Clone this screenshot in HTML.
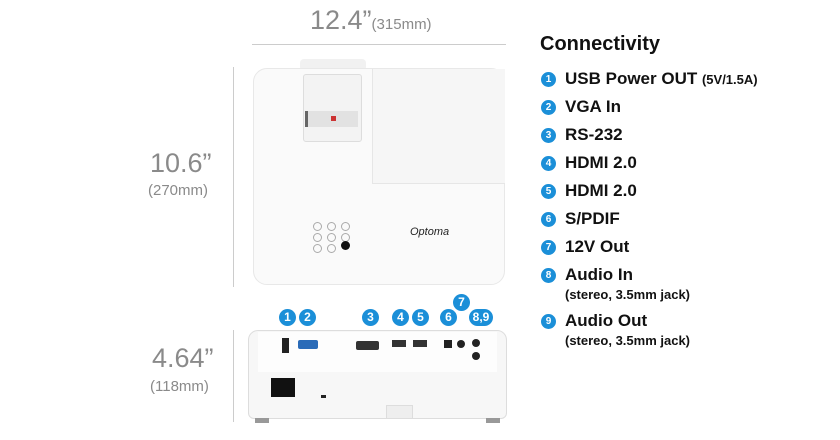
<!DOCTYPE html>
<html><head><meta charset="utf-8"><style>
body{margin:0;width:840px;height:440px;background:#fff;position:relative;overflow:hidden;font-family:"Liberation Sans",Arial,sans-serif}
.a{position:absolute}
.g{color:#8a8a8a}
.b{position:absolute;width:15px;height:15px;border-radius:50%;background:#1b8fd8;color:#fff;font-weight:bold;font-size:10px;text-align:center;line-height:15px}
.it{position:absolute;left:565px;font-weight:bold;font-size:17px;color:#111}
.sub{position:absolute;left:565px;font-weight:bold;font-size:13px;color:#111}
.pb{position:absolute;width:17px;height:17px;border-radius:50%;background:#1b8fd8;color:#fff;font-weight:bold;font-size:12px;text-align:center;line-height:17px}
.btn{position:absolute;width:7px;height:7px;border:1px solid #aaa;border-radius:50%}
</style></head><body>
<div class="a g" style="left:310px;top:5px;font-size:27px">12.4”<span style="font-size:15px">(315mm)</span></div>
<div class="a" style="left:252px;top:44px;width:254px;height:1px;background:#ccc"></div>
<div class="a g" style="left:150px;top:148px;font-size:27px">10.6”</div>
<div class="a g" style="left:148px;top:182px;font-size:15px">(270mm)</div>
<div class="a" style="left:233px;top:67px;width:1px;height:220px;background:#ccc"></div>
<div class="a g" style="left:152px;top:343px;font-size:27px">4.64”</div>
<div class="a g" style="left:150px;top:378px;font-size:15px">(118mm)</div>
<div class="a" style="left:233px;top:330px;width:1px;height:92px;background:#ccc"></div>

<!-- top view -->
<div class="a" style="left:300px;top:59px;width:66px;height:12px;background:#f1f1f1;border-radius:4px"></div>
<div class="a" style="left:253px;top:68px;width:252px;height:217px;background:#fafafa;border:1px solid #e8e8e8;border-radius:14px;box-sizing:border-box"></div>
<div class="a" style="left:372px;top:69px;width:132px;height:114px;background:#f6f6f6;border-left:1px solid #e6e6e6;border-bottom:1px solid #e6e6e6"></div>
<div class="a" style="left:303px;top:74px;width:57px;height:66px;background:#f3f3f3;border:1px solid #ddd;border-radius:3px"></div>
<div class="a" style="left:305px;top:111px;width:50px;height:16px;background:#e2e2e2;border-left:3px solid #666"></div>
<div class="a" style="left:331px;top:116px;width:5px;height:5px;background:#c33"></div>
<div class="btn" style="left:313px;top:222px"></div><div class="btn" style="left:327px;top:222px"></div><div class="btn" style="left:341px;top:222px"></div>
<div class="btn" style="left:313px;top:233px"></div><div class="btn" style="left:327px;top:233px"></div><div class="btn" style="left:341px;top:233px"></div>
<div class="btn" style="left:313px;top:244px"></div><div class="btn" style="left:327px;top:244px"></div>
<div class="a" style="left:341px;top:241px;width:9px;height:9px;border-radius:50%;background:#111"></div>
<div class="a" style="left:410px;top:226px;font-size:11px;font-style:italic;color:#222">Optoma</div>

<!-- back view -->
<div class="a" style="left:248px;top:330px;width:259px;height:89px;background:#f7f7f7;border:1px solid #ddd;border-radius:10px 10px 6px 6px;box-sizing:border-box"></div>
<div class="a" style="left:258px;top:332px;width:239px;height:40px;background:#fdfdfd"></div>
<div class="a" style="left:255px;top:418px;width:14px;height:5px;background:#999"></div>
<div class="a" style="left:486px;top:418px;width:14px;height:5px;background:#999"></div>
<div class="a" style="left:282px;top:338px;width:7px;height:15px;background:#222"></div>
<div class="a" style="left:298px;top:340px;width:20px;height:9px;background:#2a6bb8;border-radius:2px"></div>
<div class="a" style="left:356px;top:341px;width:23px;height:9px;background:#333;border-radius:2px"></div>
<div class="a" style="left:392px;top:340px;width:14px;height:7px;background:#333"></div>
<div class="a" style="left:413px;top:340px;width:14px;height:7px;background:#333"></div>
<div class="a" style="left:444px;top:340px;width:8px;height:8px;background:#222"></div>
<div class="a" style="left:457px;top:340px;width:8px;height:8px;border-radius:50%;background:#222"></div>
<div class="a" style="left:472px;top:339px;width:8px;height:8px;border-radius:50%;background:#222"></div>
<div class="a" style="left:472px;top:352px;width:8px;height:8px;border-radius:50%;background:#222"></div>
<div class="a" style="left:271px;top:378px;width:24px;height:19px;background:#111"></div>
<div class="a" style="left:321px;top:395px;width:5px;height:3px;background:#222"></div>
<div class="a" style="left:386px;top:405px;width:25px;height:12px;background:#eee;border:1px solid #ddd"></div>
<div class="pb" style="left:279px;top:309px">1</div>
<div class="pb" style="left:299px;top:309px">2</div>
<div class="pb" style="left:362px;top:309px">3</div>
<div class="pb" style="left:392px;top:309px">4</div>
<div class="pb" style="left:412px;top:309px">5</div>
<div class="pb" style="left:440px;top:309px">6</div>
<div class="pb" style="left:453px;top:294px">7</div>
<div class="pb" style="left:469px;top:309px;width:24px;border-radius:9px">8,9</div>

<!-- list -->
<div class="a" style="left:540px;top:33px;font-size:20px;font-weight:bold;color:#111">Connectivity</div>
<div class="b" style="left:541px;top:72px">1</div><div class="it" style="top:69px">USB Power OUT <span style="font-size:13px">(5V/1.5A)</span></div>
<div class="b" style="left:541px;top:100px">2</div><div class="it" style="top:97px">VGA In</div>
<div class="b" style="left:541px;top:128px">3</div><div class="it" style="top:125px">RS-232</div>
<div class="b" style="left:541px;top:156px">4</div><div class="it" style="top:153px">HDMI 2.0</div>
<div class="b" style="left:541px;top:184px">5</div><div class="it" style="top:181px">HDMI 2.0</div>
<div class="b" style="left:541px;top:212px">6</div><div class="it" style="top:209px">S/PDIF</div>
<div class="b" style="left:541px;top:240px">7</div><div class="it" style="top:237px">12V Out</div>
<div class="b" style="left:541px;top:268px">8</div><div class="it" style="top:265px">Audio In</div>
<div class="sub" style="top:287px">(stereo, 3.5mm jack)</div>
<div class="b" style="left:541px;top:314px">9</div><div class="it" style="top:311px">Audio Out</div>
<div class="sub" style="top:333px">(stereo, 3.5mm jack)</div>
</body></html>
